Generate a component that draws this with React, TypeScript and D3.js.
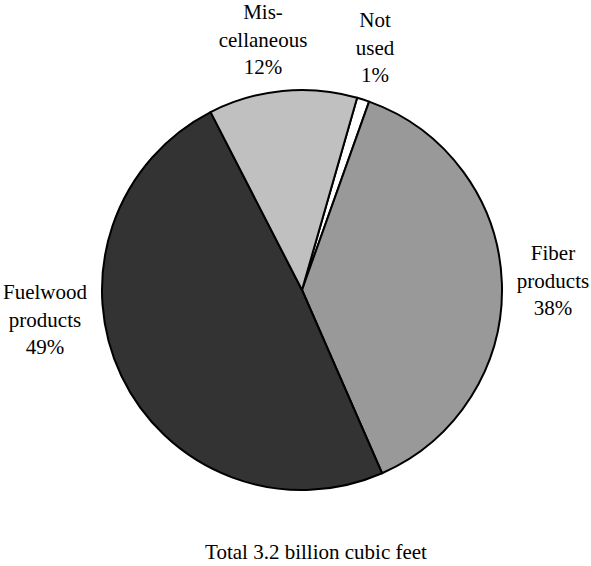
import React from "react";
import * as d3 from "d3";

const categories = ["Not used", "Fiber products", "Fuelwood products", "Miscellaneous"];
const values = [1, 38, 49, 12];
const labelLines = [
  ["Not", "used", "1%"],
  ["Fiber", "products", "38%"],
  ["Fuelwood", "products", "49%"],
  ["Mis-", "cellaneous", "12%"],
];
const totalLabel = "Total 3.2 billion cubic feet";

const colors = ["#ffffff", "#999999", "#333333", "#c0c0c0"];
// label anchor positions (x center, first baseline)
const labelPos: [number, number][] = [
  [375, 27],
  [553, 260],
  [45, 299],
  [263, 19],
];

const W = 591;
const H = 566;
const cx = 302;
const cy = 290;
const R = 200;
const startDeg = 16;

export default function App() {
  const pie = d3
    .pie<number>()
    .sort(null)
    .value((d) => d)
    .startAngle((startDeg * Math.PI) / 180)
    .endAngle(((startDeg + 360) * Math.PI) / 180);
  const arcs = pie(values);
  const arc = d3.arc<d3.PieArcDatum<number>>().innerRadius(0).outerRadius(R);
  return (
    <svg width={W} height={H} style={{ position: "absolute", left: 0, top: 0 }}>
      <rect width={W} height={H} fill="#fff" />
      <g transform={`translate(${cx},${cy})`}>
        {arcs.map((a, i) => (
          <path
            key={categories[i]}
            d={arc(a) || ""}
            fill={colors[i]}
            stroke="#000"
            strokeWidth={2}
            strokeLinejoin="round"
          />
        ))}
      </g>
      {labelLines.map((lines, i) => (
        <text
          key={categories[i]}
          x={labelPos[i][0]}
          y={labelPos[i][1]}
          textAnchor="middle"
          fontFamily="Liberation Serif"
          fontSize={21}
          style={{ fontFamily: "Liberation Serif", fontSize: "21px" }}
          fill="#000"
        >
          {lines.map((l, j) => (
            <tspan key={j} x={labelPos[i][0]} dy={j === 0 ? 0 : 27.5}>
              {l}
            </tspan>
          ))}
        </text>
      ))}
      <text
        x={316}
        y={559}
        textAnchor="middle"
        fontFamily="Liberation Serif"
        fontSize={21}
        style={{ fontFamily: "Liberation Serif", fontSize: "21px" }}
        fill="#000"
      >
        {totalLabel}
      </text>
    </svg>
  );
}
